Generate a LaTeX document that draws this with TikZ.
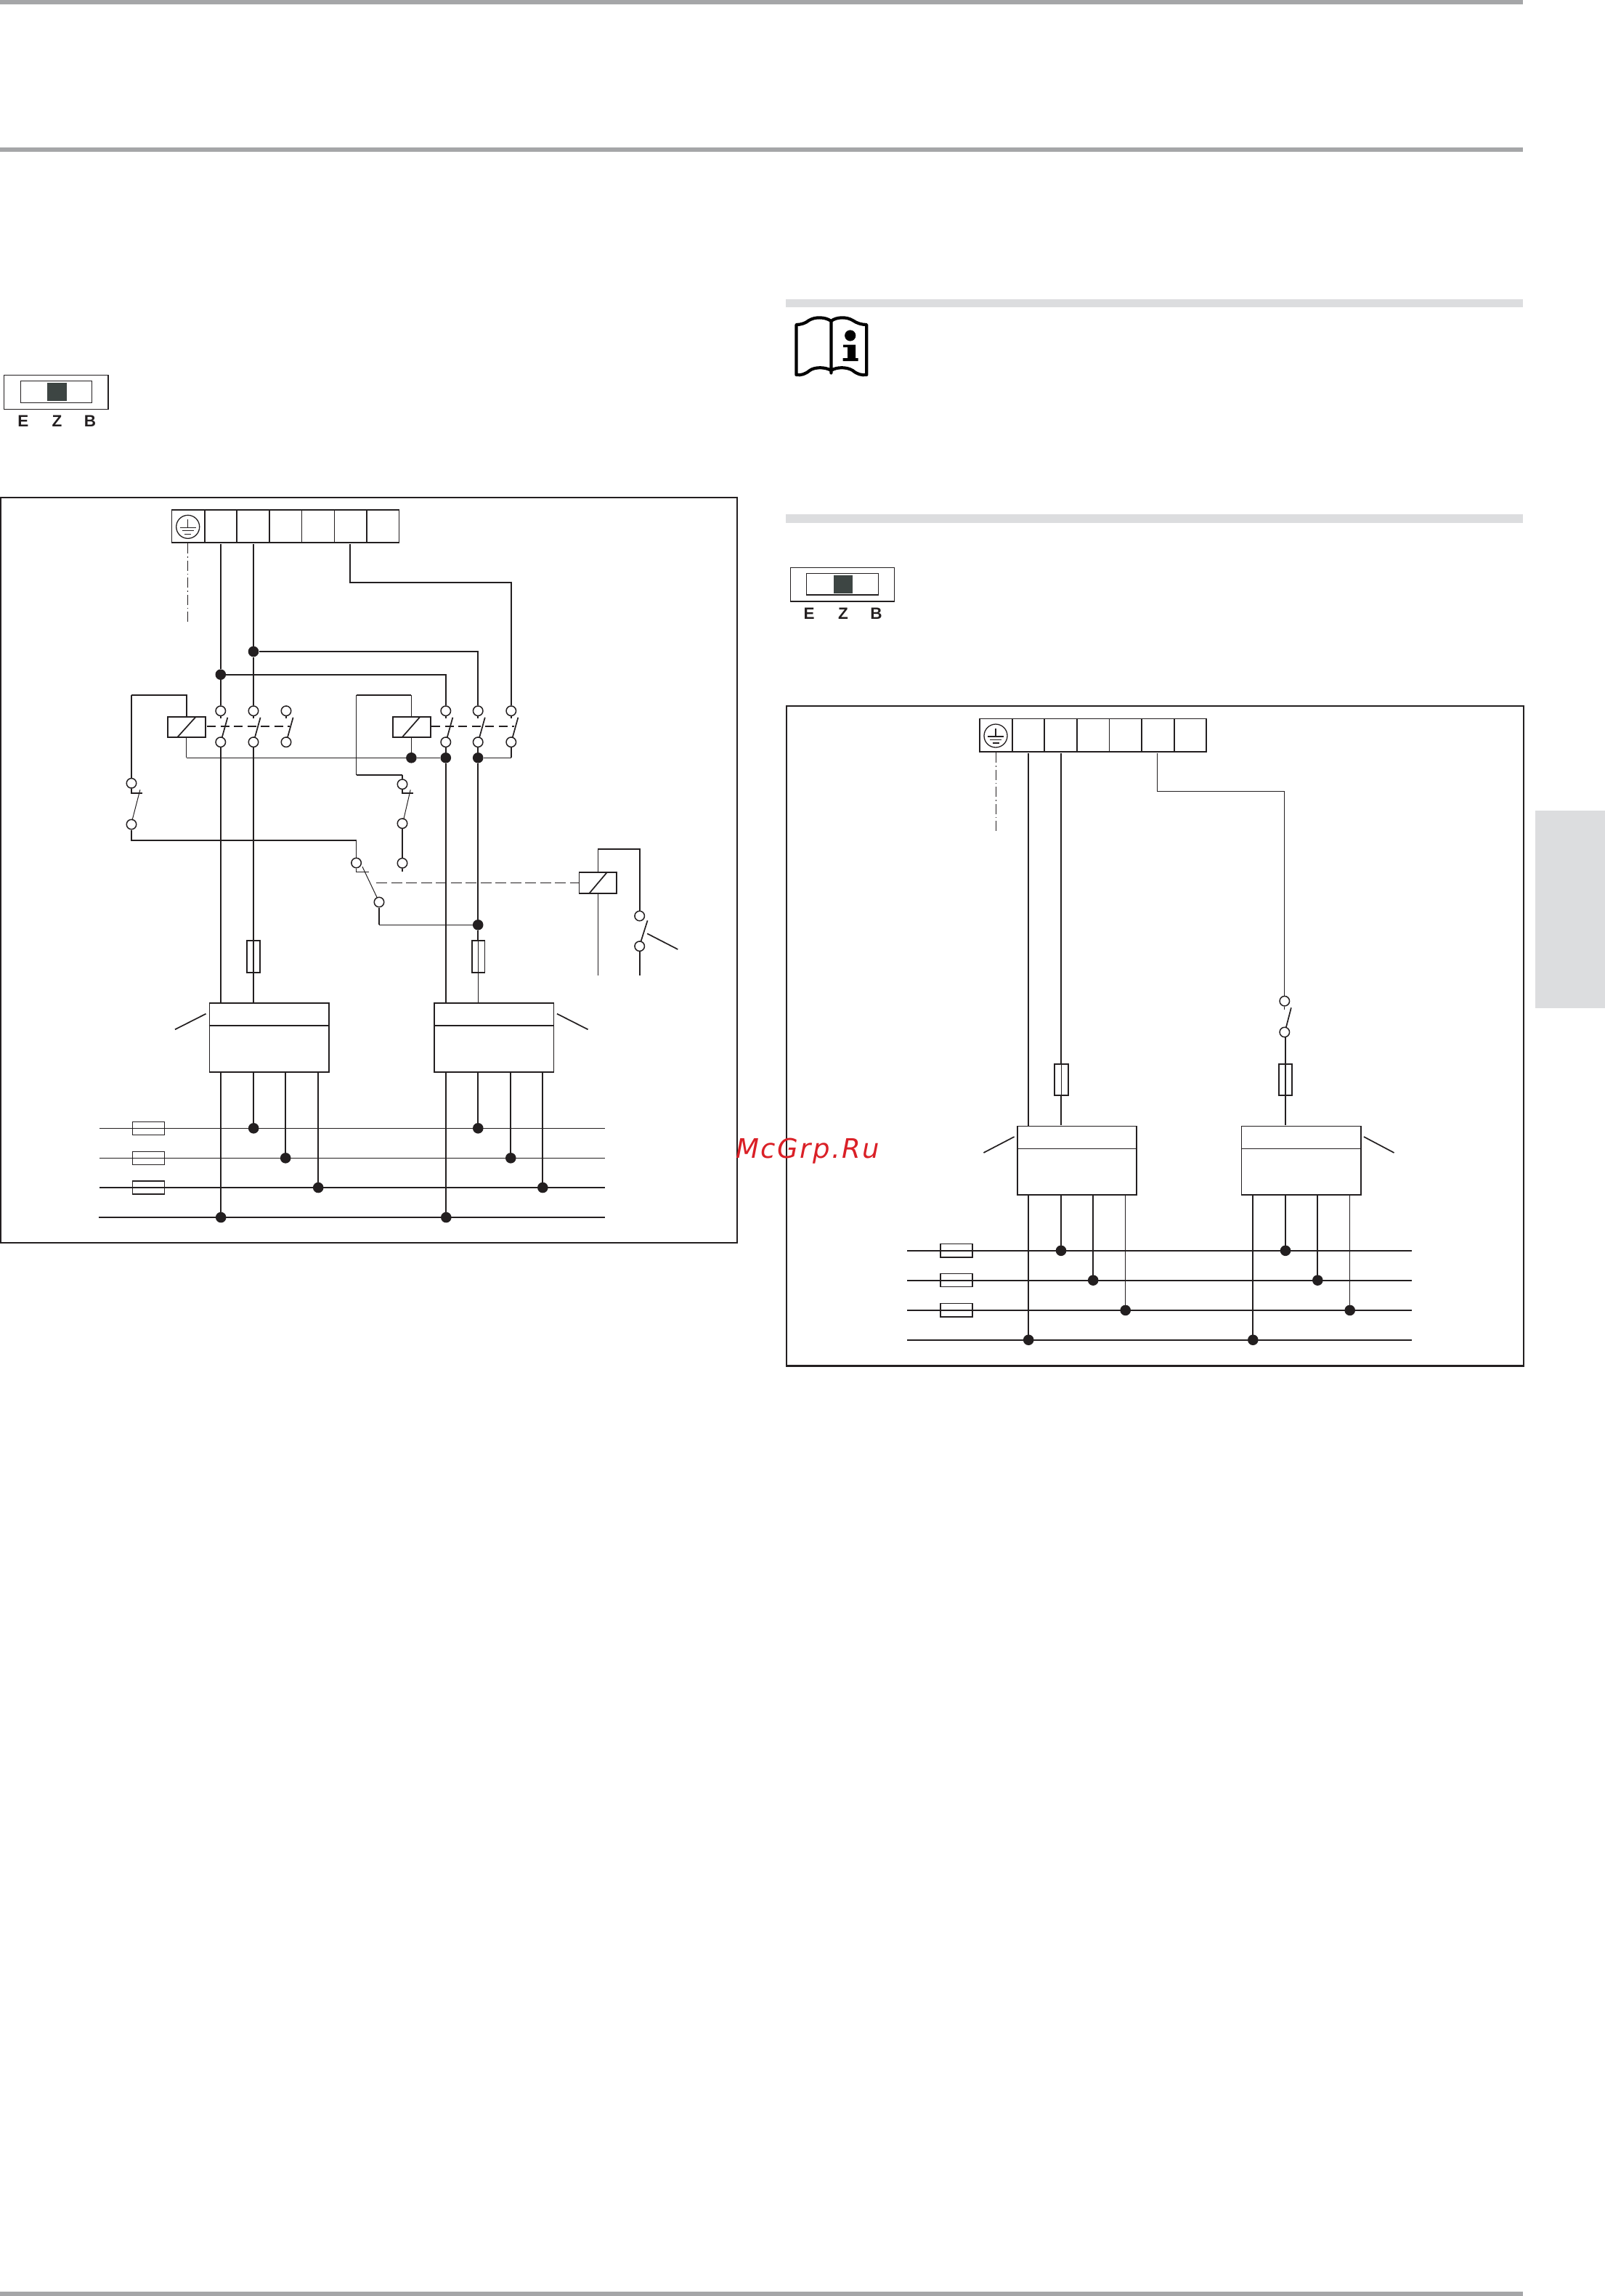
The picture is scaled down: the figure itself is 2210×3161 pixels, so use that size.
\documentclass[tikz,border=0pt]{standalone}
\usepackage{fontspec}
\setmainfont{Liberation Sans}
\newfontfamily\wmfont[LetterSpace=6.5]{DejaVu Sans Oblique}
\definecolor{ink}{HTML}{231F20}
\definecolor{rulegray}{HTML}{A5A6A8}
\definecolor{bargray}{HTML}{DCDDDF}
\definecolor{darkbox}{HTML}{3D4543}
\definecolor{wm}{HTML}{DA2027}
\tikzset{
  x=1pt,y=-1pt,
  wire/.style={draw=ink,line width=1.7pt},
  thin wire/.style={draw=ink,line width=1.0pt},
  mid wire/.style={draw=ink,line width=1.3pt},
  thick wire/.style={draw=ink,line width=2.1pt},
  box/.style={draw=ink,line width=1.7pt,fill=white},
  terminal/.style={circle,draw=ink,line width=1.5pt,fill=white,minimum size=13.5pt,inner sep=0pt},
  junction/.style={circle,fill=ink,draw=none,minimum size=14.6pt,inner sep=0pt},
  letter/.style={font=\fontsize{22.5}{24}\selectfont\bfseries,text=ink,inner sep=0pt},
  coupling/.style={draw=ink,line width=1.9pt,dash pattern=on 12pt off 6.5pt},
  fine dash/.style={draw=ink,line width=1.0pt,dash pattern=on 15pt off 5.5pt},
  earth dash/.style={draw=ink,line width=1.2pt,dash pattern=on 14pt off 4pt on 1.6pt off 4pt},
}
\newcommand{\earthsym}[2]{% centre x y
  \draw[draw=ink,line width=1.3pt] (#1,#2) circle (16pt);
  \draw[draw=ink,line width=1.2pt] (#1,#2-10) -- (#1,#2+1);
  \draw[draw=ink,line width=1.2pt] (#1-11,#2+1) -- (#1+11,#2+1);
  \draw[draw=ink,line width=1.2pt] (#1-8,#2+5.5) -- (#1+8,#2+5.5);
  \draw[draw=ink,line width=1.2pt] (#1-4.5,#2+10) -- (#1+4.5,#2+10);}
\begin{document}
\begin{tikzpicture}
\useasboundingbox (0,0) rectangle (2210,3161);
\fill[white] (0,0) rectangle (2210,3161);
% page furniture
\fill[rulegray] (0,0) rectangle (2097,6);
\fill[rulegray] (0,202.7) rectangle (2097,209);
\fill[rulegray] (0,3155) rectangle (2097,3161);
\fill[bargray] (1082,412.4) rectangle (2097,423.4);
\fill[bargray] (1082,708) rectangle (2097,720);
\fill[bargray] (2114,1116) rectangle (2210,1387.7);
% book icon
\draw[draw=black,line width=4.2pt,line join=round,line cap=round]
  (1144.4,442) .. controls (1136,436) and (1122,436) .. (1114,441)
  .. controls (1109,445) and (1103,447) .. (1096.4,447)
  -- (1096.4,516)
  .. controls (1103,517) and (1109,515) .. (1115,510)
  .. controls (1122,505) and (1136,505) .. (1144.4,510)
  .. controls (1152,505) and (1166,505) .. (1174,510)
  .. controls (1180,515) and (1186,517) .. (1193.3,516)
  -- (1193.3,447)
  .. controls (1186,447) and (1180,445) .. (1174,441)
  .. controls (1166,436) and (1152,436) .. (1144.4,442)
  -- (1144.4,513.5);
\fill[black] (1170.7,462) circle (7.6pt);
\fill[black] (1161,474.5) -- (1178,474.5) -- (1178,493) -- (1181.5,493) -- (1181.5,497) -- (1160.5,497) -- (1160.5,493) -- (1167,493) -- (1167,478) -- (1161,478) -- cycle;
% selector 1
\draw[draw=ink,line width=1.5pt] (5.4,516.3) rectangle (149,563.3);
\draw[draw=ink,line width=1.5pt] (28.3,524.3) rectangle (126.7,554.3);
\fill[darkbox] (65.4,527.3) rectangle (91.5,551.7);
\node[letter] (selE) at (31.8,580) {E};
\node[letter] (selZ) at (78.5,580) {Z};
\node[letter] (selB) at (124,580) {B};
% selector 2
\draw[draw=ink,line width=1.2pt] (1088.6,781.6) rectangle (1231.4,827.9);
\draw[draw=ink,line width=1.4pt] (1110.4,789.6) rectangle (1209.6,819);
\fill[darkbox] (1147.5,792) rectangle (1173.8,817);
\node[letter] (selEb) at (1114,844.3) {E};
\node[letter] (selZb) at (1161,844.3) {Z};
\node[letter] (selBb) at (1206.4,844.3) {B};
% ================= LEFT DIAGRAM
\draw[draw=ink,line width=2.2pt] (1,685) rectangle (1015,1711);
% terminal strip
\draw[wire] (236.5,701.7) rectangle (549.6,746.7);
\foreach \xx in {282,326,370.8,460.4,505} \draw[wire] (\xx,701.7) -- (\xx,746.7);
\draw[thin wire] (415.6,701.7) -- (415.6,746.7);
\earthsym{258.7}{725.3}
\draw[earth dash] (258.7,748) -- (258.7,858);
% coordinates
\coordinate (L1) at (303.8,749.3);
\coordinate (L2) at (349,749.3);
\coordinate (L3) at (481.8,749.3);
% bus
\foreach \yy/\st in {1553.3/thin wire,1594.3/thin wire,1635/thick wire}
  \draw[\st] (137.2,\yy) -- (833.4,\yy);
\draw[thick wire] (135.8,1676) -- (833.4,1676);
\foreach \yy in {1553.3,1594.3,1635} \draw[draw=ink,line width=1.2pt] (182.7,\yy-9) rectangle (226.7,\yy+9);
% junctions
\node[junction] (jA) at (303.8,928.7) {};
\node[junction] (jB) at (349,897) {};
\node[junction] (j1) at (566.4,1043.3) {};
\node[junction] (j2) at (613.8,1043.3) {};
\node[junction] (j3) at (658.2,1043.3) {};
\node[junction] (j4) at (658.2,1273.3) {};
% terminals, coil 1 contacts
\foreach \nm/\xx in {a/303.8,b/349,c/394}{
  \node[terminal] (t\nm) at (\xx,978.7) {};
  \node[terminal] (u\nm) at (\xx,1021.7) {};
}
\foreach \nm/\xx in {d/613.8,e/658.2,f/703.8}{
  \node[terminal] (t\nm) at (\xx,978.7) {};
  \node[terminal] (u\nm) at (\xx,1021.7) {};
}
% wires of the left diagram
\draw[wire] (L1) -- (jA) -- (ta);
\draw[wire] (L2) -- (jB) -- (tb);
\draw[wire] (ua) -- (303.8,1381.3);
\draw[wire] (ub) -- (349,1295.3);
\draw[wire] (jB) -- (658.2,897) -- (te);
\draw[wire] (jA) -- (613.8,928.7) -- (td);
\draw[wire] (L3) -- (481.8,802) -- (703.8,802) -- (tf);
\foreach \nm/\xx in {a/303.8,b/349,c/394,d/613.8,e/658.2,f/703.8}
  \draw[wire] (t\nm) -- (\xx,989.3);
\draw[wire] (ud) -- (j2) -- (613.8,1381.3);
\draw[wire] (ue) -- (j3) -- (j4) -- (658.2,1295.3);
\draw[thin wire] (658.2,1339.3) -- (658.2,1381.3);
\draw[wire] (uf) -- (703.8,1043.3);
\draw[thin wire] (256.8,1043.3) -- (j1) -- (j2);
\draw[thin wire] (j3) -- (703.8,1043.3);
% blades
\foreach \xx in {303.8,349,394,613.8,658.2,703.8}
  \draw[wire] (\xx+9.6,987.7) -- (\xx+2,1015);
\draw[coupling] (285,1000) -- (398.8,1000);
\draw[coupling] (594,1000) -- (708,1000);
% coil 1
\draw[box] (231,986.7) rectangle (283,1014.7);
\draw[wire] (244.5,1014.7) -- (269.8,986.7);
\draw[wire] (256.8,986.7) -- (256.8,957.3) -- (181,957.3);
\node[terminal] (k1) at (181,1078.3) {};
\node[terminal] (k2) at (181,1135) {};
\draw[wire] (181,957.3) -- (k1);
\draw[wire] (k1) -- (181,1091.7) -- (196,1091.7);
\draw[thin wire] (192.9,1087.3) -- (182,1129.3);
\draw[thin wire] (256.8,1014.7) -- (256.8,1043.3);
% coil 2
\draw[box] (540.7,986.7) rectangle (592.8,1014.7);
\draw[wire] (554,1014.7) -- (578.6,986.7);
\draw[wire] (490.6,957.3) -- (566.4,957.3);
\draw[thin wire] (566.4,957.3) -- (566.4,986.7);
\draw[thin wire] (566.4,1014.7) -- (j1);
\draw[thin wire] (490.6,957.3) -- (490.6,1066.7);
\draw[wire] (490.6,1066.7) -- (554,1066.7);
\node[terminal] (m1) at (554,1079.7) {};
\node[terminal] (m2) at (554,1133.7) {};
\node[terminal] (m3) at (554,1188.3) {};
\draw[wire] (554,1066.7) -- (m1);
\draw[wire] (m1) -- (554,1091.7) -- (569,1091.7);
\draw[thin wire] (565.2,1087.3) -- (555.7,1128.3);
\draw[wire] (m2) -- (m3);
\draw[wire] (m3) -- (554,1200);
% change-over
\node[terminal] (n1) at (490.6,1188) {};
\node[terminal] (n2) at (522,1242) {};
\draw[wire] (k2) -- (181,1157) -- (490.6,1157);
\draw[thin wire] (490.6,1157) -- (n1);
\draw[thin wire] (n1) -- (490.6,1200) -- (507.8,1200);
\draw[thin wire] (499,1193.3) -- (519.3,1236);
\draw[wire] (n2) -- (522,1273.3);
\draw[thin wire] (522,1273.3) -- (j4);
\draw[fine dash] (518,1215.3) -- (797.6,1215.3);
% coil 3
\draw[box] (797.6,1201) rectangle (849,1230);
\draw[wire] (811.3,1230) -- (835.8,1201);
\node[terminal] (p1) at (880.7,1261) {};
\node[terminal] (p2) at (880.7,1302.7) {};
\draw[thin wire] (823.2,1201) -- (823.2,1169.3);
\draw[wire] (823.2,1169.3) -- (880.7,1169.3) -- (p1);
\draw[wire] (p2) -- (880.7,1342.7);
\draw[thin wire] (823.2,1230) -- (823.2,1342.7);
\draw[wire] (891.6,1267.3) -- (882.5,1296);
\draw[wire] (891.2,1285.3) -- (933.3,1307);
% line fuses
\draw[box] (339.8,1295.3) rectangle (357.8,1339.3);
\draw[wire] (349,1295.3) -- (349,1381.3);
\draw[box] (649.8,1295.3) rectangle (667.4,1339.3);
\draw[thin wire] (658.2,1295.3) -- (658.2,1381.3);
% boxes
\foreach \xa/\xb in {288.4/453,598/762.6}{
  \draw[box] (\xa,1381.3) rectangle (\xb,1475.7);
  \draw[wire] (\xa,1412.3) -- (\xb,1412.3);
}
\draw[wire] (283.6,1395.7) -- (241,1417.3);
\draw[wire] (767,1395.7) -- (809.5,1417.3);
% box outputs
\foreach \xx/\yy in {304.2/1676,349.2/1553.3,393.2/1594.3,438.2/1635,614.3/1676,658.3/1553.3,703.3/1594.3,747.3/1635}{
  \draw[wire] (\xx,1475.7) -- (\xx,\yy);
  \fill[ink] (\xx,\yy) circle (7.3pt);
}
% ================= RIGHT DIAGRAM
\draw[draw=ink,line width=2.2pt] (1082.8,972) rectangle (2098,1880.5);
\draw[wire] (1348.8,989.6) rectangle (1661.3,1034.8);
\foreach \xx in {1394,1438,1483.2,1527.4,1572,1617} \draw[wire] (\xx,989.6) -- (\xx,1034.8);
\earthsym{1371}{1013}
\draw[draw=ink,line width=1pt,dash pattern=on 14pt off 4pt on 1.6pt off 4pt] (1371.6,1036) -- (1371.6,1145);
\node[terminal] (q1) at (1768.8,1378.2) {};
\draw[mid wire] (1593.5,1036.8) -- (1593.5,1089.6) -- (1768.8,1089.6) -- (q1);
\draw[thin wire] (q1) -- (1768.8,1389.7);
\draw[wire] (1777.9,1387.3) -- (1770.7,1415);
\draw[wire] (1770,1421) -- (1770,1464.7);
\node[terminal] (q2) at (1768.8,1421) {};
\draw[wire] (1415.9,1036.8) -- (1415.9,1550.5);
\draw[wire] (1461,1036.8) -- (1461,1548.8);
\draw[box] (1452,1464.7) rectangle (1470.7,1508.2);
\draw[thin wire] (1461,1464.7) -- (1461,1508.2);
\draw[box] (1761.2,1464.7) rectangle (1779.3,1508.2);
\draw[wire] (1770,1464.7) -- (1770,1548.8);
\foreach \xa/\xb in {1400.9/1565,1709.5/1874}{
  \draw[box] (\xa,1550.5) rectangle (\xb,1644.7);
  \draw[thin wire] (\xa,1581.6) -- (\xb,1581.6);
}
\draw[wire] (1396.6,1565) -- (1354.4,1587);
\draw[wire] (1877.9,1565) -- (1919.5,1587);
\foreach \yy in {1721.8,1762.6,1803.9,1844.7}
  \draw[thick wire] (1249.2,\yy) -- (1944.4,\yy);
\foreach \yy in {1721.8,1762.6,1803.9} \draw[draw=ink,line width=1.3pt] (1295,\yy-9.2) rectangle (1339,\yy+9.2);
\foreach \xx/\yy/\st in {1416.2/1844.7/wire,1461/1721.8/wire,1505.2/1762.6/wire,1549.7/1803.9/thin wire,1725.3/1844.7/wire,1770/1721.8/wire,1814.3/1762.6/wire,1858.7/1803.9/thin wire}{
  \draw[\st] (\xx,1644.7) -- (\xx,\yy);
  \fill[ink] (\xx,\yy) circle (7.3pt);
}
% watermark
\node[anchor=base,inner sep=0pt,text=wm,font=\fontsize{37}{40}\selectfont\wmfont] (wmark) at (1112,1594) {McGrp.Ru};
\end{tikzpicture}
\end{document}
